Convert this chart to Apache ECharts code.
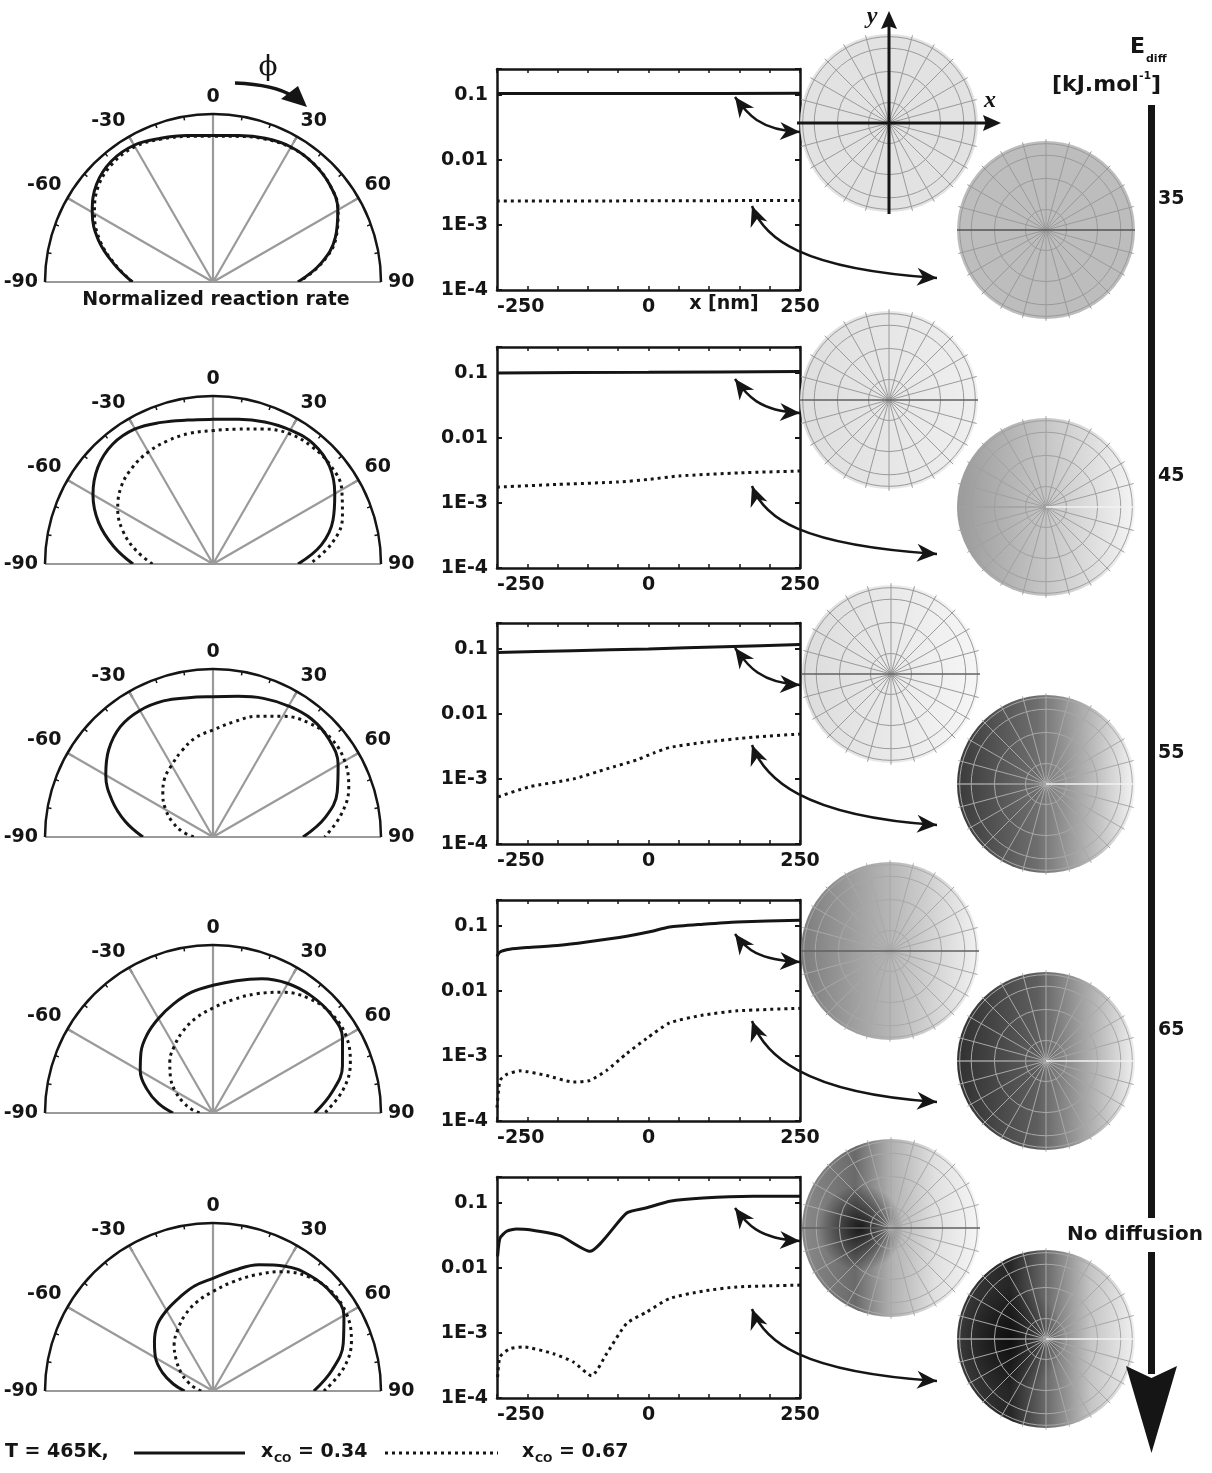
<!DOCTYPE html>
<html>
<head>
<meta charset="utf-8">
<script src="https://cdn.jsdelivr.net/npm/echarts@6/dist/echarts.min.js"></script>
<style>
html,body{margin:0;padding:0;background:#fff}
#chart{width:1212px;height:1473px}
</style>
</head>
<body>
<div id="chart"></div>
<script>
// ---- angular rate profiles (phi in degrees, rate normalized) ----
const ANGLES = [-90,-80,-70,-60,-50,-40,-30,-20,-10,0,10,20,30,40,50,60,70,80,90];

const rateE35_x034 = [0.48,0.595,0.725,0.83,0.905,0.94,0.94,0.91,0.885,0.872,0.885,0.91,0.928,0.925,0.905,0.858,0.775,0.655,0.505];
const rateE35_x067 = [0.48,0.59,0.715,0.815,0.89,0.925,0.93,0.905,0.88,0.868,0.88,0.905,0.925,0.925,0.905,0.86,0.78,0.66,0.51];
const rateE45_x034 = [0.476,0.60,0.725,0.825,0.895,0.93,0.928,0.897,0.87,0.861,0.875,0.90,0.921,0.932,0.905,0.837,0.76,0.655,0.506];
const rateE45_x067 = [0.36,0.465,0.57,0.655,0.714,0.748,0.77,0.782,0.79,0.794,0.815,0.855,0.898,0.913,0.913,0.885,0.82,0.72,0.576];
const rateE55_x034 = [0.417,0.53,0.64,0.737,0.81,0.858,0.87,0.862,0.842,0.835,0.85,0.878,0.9,0.915,0.902,0.86,0.787,0.68,0.536];
const rateE55_x067 = [0.115,0.185,0.255,0.325,0.39,0.45,0.493,0.545,0.6,0.637,0.695,0.765,0.83,0.887,0.915,0.905,0.86,0.775,0.665];
const rateE65_x034 = [0.238,0.33,0.42,0.5,0.56,0.61,0.65,0.69,0.73,0.76,0.8,0.85,0.89,0.91,0.915,0.89,0.82,0.72,0.605];
const rateE65_x067 = [0.08,0.13,0.19,0.26,0.33,0.4,0.46,0.52,0.575,0.625,0.685,0.755,0.83,0.89,0.92,0.915,0.87,0.785,0.665];
const rateND_x034  = [0.169,0.24,0.32,0.395,0.455,0.515,0.553,0.59,0.635,0.671,0.73,0.8,0.858,0.897,0.915,0.90,0.825,0.72,0.6];
const rateND_x067  = [0.07,0.11,0.16,0.22,0.285,0.36,0.42,0.483,0.54,0.592,0.658,0.735,0.82,0.887,0.92,0.918,0.877,0.79,0.66];

// ---- rate along x [nm] (log scale) ----
const profE35_x034_pos = [-250, 0, 250];
const profE35_x034_val = [0.105, 0.105, 0.106];
const profE35_x067_pos = [-250, 0, 250];
const profE35_x067_val = [0.00233, 0.00235, 0.00238];

const profE45_x034_pos = [-250, 0, 250];
const profE45_x034_val = [0.1, 0.102, 0.105];
const profE45_x067_pos = [-250, -150, -50, 0, 50, 150, 250];
const profE45_x067_val = [0.00175, 0.00193, 0.0021, 0.0023, 0.0026, 0.0029, 0.0031];

const profE55_x034_pos = [-250, -125, 0, 125, 250];
const profE55_x034_val = [0.088, 0.094, 0.1, 0.108, 0.117];
const profE55_x067_pos = [-248, -196, -124, -69, -19, 8, 35, 90, 173, 250];
const profE55_x067_val = [5.3e-4, 7.6e-4, 1.0e-3, 1.43e-3, 1.97e-3, 2.5e-3, 3.05e-3, 3.64e-3, 4.4e-3, 4.9e-3];

const profE65_x034_pos = [-250, -245, -229, -201, -146, -102, -36, 2, 35, 90, 146, 250];
const profE65_x034_val = [0.034, 0.0397, 0.0437, 0.0464, 0.0504, 0.0566, 0.0694, 0.081, 0.096, 0.106, 0.115, 0.122];
const profE65_x067_pos = [-250, -245, -234, -212, -168, -124, -97, -69, -36, -3, 35, 90, 146, 250];
const profE65_x067_val = [1.6e-4, 4.2e-4, 5.2e-4, 5.9e-4, 5.0e-4, 3.97e-4, 4.2e-4, 6.0e-4, 1.09e-3, 1.86e-3, 3.23e-3, 4.25e-3, 4.94e-3, 5.4e-3];

const profND_x034_pos = [-249, -245, -234, -218, -196, -146, -97, -36, -3, 35, 90, 173, 250];
const profND_x034_val = [0.015, 0.0288, 0.0366, 0.0397, 0.0387, 0.0313, 0.018, 0.07, 0.084, 0.106, 0.119, 0.126, 0.126];
const profND_x067_pos = [-249, -245, -229, -207, -157, -124, -94, -69, -36, -3, 35, 90, 146, 250];
const profND_x067_val = [2.1e-4, 4.3e-4, 5.7e-4, 6.1e-4, 4.8e-4, 3.57e-4, 2.2e-4, 4.8e-4, 1.4e-3, 2.1e-3, 3.4e-3, 4.4e-3, 5.1e-3, 5.45e-3];

// ---- axis tick texts ----
const PHI_TICKS = [-90, -60, -30, 0, 30, 60, 90];
const X_TICK_LABELS = [-250, 0, 250];
const Y_TICK_LABELS = {'-1': '0.1', '-2': '0.01', '-3': '1E-3', '-4': '1E-4'};
const EDIFF_LABELS = ['35', '45', '55', '65'];

// ---- layout ----
const FONT = 'DejaVu Sans';
const INK = '#151515';
const POLAR_Y = [282, 564, 837, 1113, 1391];
const GRID_TOP = [69, 347, 623, 900, 1177];
const UPPER_C = [[889, 123], [889, 400], [891, 674], [890, 951], [891, 1228]];
const LOWER_C = [[1046, 230], [1046, 507], [1046, 784], [1046, 1061], [1046, 1339]];
const SMALL_ARROW = [[28, 63], [32, 66], [25, 62], [34, 62], [31, 64]];
const LONG_ARROW = [[137, 209], [139, 207], [122, 202], [121, 202], [132, 204]];

const polarSets = [
  [rateE35_x034, rateE35_x067], [rateE45_x034, rateE45_x067], [rateE55_x034, rateE55_x067],
  [rateE65_x034, rateE65_x067], [rateND_x034, rateND_x067]
];
const profileSets = [
  [[profE35_x034_pos, profE35_x034_val], [profE35_x067_pos, profE35_x067_val]],
  [[profE45_x034_pos, profE45_x034_val], [profE45_x067_pos, profE45_x067_val]],
  [[profE55_x034_pos, profE55_x034_val], [profE55_x067_pos, profE55_x067_val]],
  [[profE65_x034_pos, profE65_x034_val], [profE65_x067_pos, profE65_x067_val]],
  [[profND_x034_pos, profND_x034_val], [profND_x067_pos, profND_x067_val]]
];

const rows = [0, 1, 2, 3, 4];
const solidStyle = {color: INK, width: 3};
const dotStyle = {color: INK, width: 3, type: [3, 4], cap: 'butt'};
const labelFont = {color: INK, fontFamily: FONT, fontWeight: 'bold', fontSize: 19};

// ---- polar half-disks ----
const polar = rows.map(i => ({center: [213, POLAR_Y[i]], radius: 168}));
const angleAxis = rows.map(i => ({
  polarIndex: i, type: 'value', min: -90, max: 90, interval: 30,
  startAngle: 180, endAngle: 0, clockwise: true,
  axisLine: {show: true, lineStyle: {color: INK, width: 2.5}},
  axisTick: {show: true, inside: true, length: 7, lineStyle: {color: INK, width: 2}},
  minorTick: {show: true, splitNumber: 3, length: 4, lineStyle: {color: INK, width: 1.5}},
  splitLine: {show: true, lineStyle: {color: '#9a9a9a', width: 2.2}},
  axisLabel: Object.assign({show: true, margin: 7,
    formatter: v => PHI_TICKS.indexOf(v) >= 0 ? String(v) : ''}, labelFont)
}));
const radiusAxis = rows.map(i => ({
  polarIndex: i, type: 'value', min: 0, max: 1, show: false,
  axisLine: {show: false}, axisTick: {show: false}, axisLabel: {show: false}, splitLine: {show: false}
}));

// ---- log-scale profiles ----
const grid = rows.map(i => ({left: 497, top: GRID_TOP[i], width: 303, height: 221}));
const xAxis = [];
const yAxis = [];
rows.forEach(i => {
  const frame = {onZero: false, lineStyle: {color: INK, width: 2.5}};
  xAxis.push({
    gridIndex: i, type: 'value', min: -250, max: 250, interval: 50, position: 'bottom',
    axisLine: frame, axisTick: {inside: true, length: 4, lineStyle: {color: INK, width: 1.5}},
    splitLine: {show: false},
    axisLabel: Object.assign({margin: 8, alignMinLabel: 'left', alignMaxLabel: 'center',
      formatter: v => X_TICK_LABELS.indexOf(v) >= 0 ? String(v) : ''}, labelFont)
  });
  xAxis.push({
    gridIndex: i, type: 'value', min: -250, max: 250, interval: 50, position: 'top',
    axisLine: frame, axisTick: {inside: true, length: 4, lineStyle: {color: INK, width: 1.5}},
    splitLine: {show: false}, axisLabel: {show: false}
  });
  const yFmt = v => {
    const l = Math.log10(v), e = Math.round(l);
    return Math.abs(l - e) < 1e-6 && Y_TICK_LABELS[String(e)] ? Y_TICK_LABELS[String(e)] : '';
  };
  yAxis.push({
    gridIndex: i, type: 'log', logBase: 10, min: 1e-4, max: 0.25, position: 'left',
    axisLine: frame, axisTick: {inside: true, length: 5, lineStyle: {color: INK, width: 2}},
    splitLine: {show: false},
    axisLabel: Object.assign({margin: 9, formatter: yFmt}, labelFont)
  });
  yAxis.push({
    gridIndex: i, type: 'log', logBase: 10, min: 1e-4, max: 0.25, position: 'right',
    axisLine: frame, axisTick: {inside: true, length: 5, lineStyle: {color: INK, width: 2}},
    splitLine: {show: false}, axisLabel: {show: false}
  });
});

// ---- series ----
const series = [];
rows.forEach(i => {
  const [solid, dotted] = polarSets[i];
  series.push({type: 'line', coordinateSystem: 'polar', polarIndex: i, symbol: 'none', smooth: 0.4,
    data: ANGLES.map((a, k) => [solid[k], a]), lineStyle: solidStyle, z: 4, silent: true});
  series.push({type: 'line', coordinateSystem: 'polar', polarIndex: i, symbol: 'none', smooth: 0.4,
    data: ANGLES.map((a, k) => [dotted[k], a]), lineStyle: dotStyle, z: 4, silent: true});
  const [[sx, sy], [dx, dy]] = profileSets[i];
  series.push({type: 'line', xAxisIndex: 2 * i, yAxisIndex: 2 * i, symbol: 'none', smooth: 0.2,
    data: sx.map((x, k) => [x, sy[k]]), lineStyle: solidStyle, silent: true});
  series.push({type: 'line', xAxisIndex: 2 * i, yAxisIndex: 2 * i, symbol: 'none', smooth: 0.2,
    data: dx.map((x, k) => [x, dy[k]]), lineStyle: dotStyle, silent: true});
});

// ---- drawing helpers ----
const lin = stops => ({type: 'linear', x: 0, y: 0, x2: 1, y2: 0,
  colorStops: stops.map(([o, c]) => ({offset: o, color: c}))});
const rad = (x, y, r, stops) => ({type: 'radial', x, y, r,
  colorStops: stops.map(([o, c]) => ({offset: o, color: c}))});

function txt(x, y, text, opts) {
  const o = Object.assign({fontSize: 19, fontWeight: 'bold', fontFamily: FONT, fill: INK,
    align: 'left', verticalAlign: 'middle'}, opts || {});
  return {type: 'text', x, y, z: 20, silent: true,
    style: Object.assign({text, textAlign: o.align, textVerticalAlign: o.verticalAlign}, o)};
}

function head(tx, ty, ux, uy, len, half, notch) {
  // arrowhead with tip (tx,ty) pointing along unit vector (ux,uy)
  const px = -uy, py = ux;
  const bx = tx - ux * len, by = ty - uy * len;
  const nx = tx - ux * len * (1 - notch), ny = ty - uy * len * (1 - notch);
  return {type: 'polygon', z: 21, silent: true,
    shape: {points: [[tx, ty], [bx + px * half, by + py * half], [nx, ny], [bx - px * half, by - py * half]]},
    style: {fill: INK}};
}
function unit(x, y) { const d = Math.hypot(x, y); return [x / d, y / d]; }

function curvedArrow(p0, c1, c2, p1, lw) {
  const els = [{type: 'bezierCurve', z: 20, silent: true,
    shape: {x1: p0[0], y1: p0[1], cpx1: c1[0], cpy1: c1[1], cpx2: c2[0], cpy2: c2[1], x2: p1[0], y2: p1[1]},
    style: {stroke: INK, lineWidth: lw || 2.5, fill: 'none'}}];
  const e = unit(p1[0] - c2[0], p1[1] - c2[1]);
  els.push(head(p1[0], p1[1], e[0], e[1], 20, 9, 0.3));
  const s = unit(p0[0] - c1[0], p0[1] - c1[1]);
  els.push(head(p0[0], p0[1], s[0], s[1], 20, 9, 0.3));
  return els;
}

function sphere(cx, cy, r, layers, gridColor, lineL, lineR, lineW) {
  const els = [];
  layers.forEach(f => els.push({type: 'circle', z: 10, silent: true, shape: {cx, cy, r}, style: {fill: f}}));
  [0.23, 0.58, 0.84, 0.97].forEach(k => els.push({type: 'circle', z: 11, silent: true,
    shape: {cx, cy, r: r * k}, style: {fill: 'none', stroke: gridColor, lineWidth: 1}}));
  for (let a = 0; a < 360; a += 15) {
    if (a % 180 === 0) continue;
    const t = a * Math.PI / 180;
    els.push({type: 'line', z: 11, silent: true,
      shape: {x1: cx, y1: cy, x2: cx + Math.cos(t) * r * 1.02, y2: cy - Math.sin(t) * r * 1.02},
      style: {stroke: gridColor, lineWidth: 1}});
  }
  if (lineL) els.push({type: 'line', z: 12, silent: true, shape: {x1: cx - r, y1: cy, x2: cx, y2: cy},
    style: {stroke: lineL, lineWidth: lineW}});
  if (lineR) els.push({type: 'line', z: 12, silent: true, shape: {x1: cx, y1: cy, x2: cx + r, y2: cy},
    style: {stroke: lineR, lineWidth: lineW}});
  return els;
}

const UPPER_SHADE = [
  ['#e2e2e2'],
  [lin([[0, '#dedede'], [1, '#efefef']])],
  [lin([[0, '#dcdcdc'], [1, '#f6f6f6']])],
  [lin([[0, '#7c7c7c'], [0.5, '#b6b6b6'], [1, '#f2f2f2']])],
  [lin([[0, '#8a8a8a'], [0.3, '#6a6a6a'], [0.5, '#b0b0b0'], [0.75, '#e0e0e0'], [1, '#f6f6f6']]),
   rad(0.33, 0.5, 0.24, [[0, 'rgba(10,10,10,0.85)'], [0.6, 'rgba(10,10,10,0.35)'], [1, 'rgba(10,10,10,0)']])]
];
const LOWER_SHADE = [
  ['#bdbdbd'],
  [lin([[0, '#9a9a9a'], [0.5, '#c6c6c6'], [1, '#f4f4f4']])],
  [lin([[0, '#3a3a3a'], [0.45, '#6e6e6e'], [1, '#f4f4f4']])],
  [lin([[0, '#303030'], [0.45, '#5e5e5e'], [1, '#f0f0f0']])],
  [lin([[0, '#3a3a3a'], [0.3, '#262626'], [0.5, '#6a6a6a'], [0.75, '#c4c4c4'], [1, '#f0f0f0']]),
   rad(0.3, 0.5, 0.3, [[0, 'rgba(0,0,0,0.6)'], [1, 'rgba(0,0,0,0)']])]
];
const UPPER_GRID = ['#9a9a9a', '#9a9a9a', '#9a9a9a', '#a8a8a8', '#a8a8a8'];
const LOWER_GRID = ['#9a9a9a', '#a0a0a0', '#a8a8a8', '#a8a8a8', '#a8a8a8'];

const elements = [];
rows.forEach(i => {
  const [ux, uy] = UPPER_C[i];
  const [lx, ly] = LOWER_C[i];
  elements.push(...sphere(ux, uy, 89, UPPER_SHADE[i], UPPER_GRID[i], i === 0 ? null : '#606060', i === 0 ? null : '#606060', 1.5));
  elements.push(...sphere(lx, ly, 89, LOWER_SHADE[i], LOWER_GRID[i],
    i === 0 ? '#555' : '#a0a0a0', i === 0 ? '#555' : '#f2f2f2', 1.5));
  const t = GRID_TOP[i];
  const [a0, a1] = SMALL_ARROW[i];
  elements.push(...curvedArrow([735, t + a0], [746, t + a0 + 15], [758, t + a1 - 2], [800, t + a1], 2.5));
  const [b0, b1] = LONG_ARROW[i];
  elements.push(...curvedArrow([752, t + b0], [764, t + b0 + 32], [800, t + b1 - 9], [937, t + b1], 2.5));
});

// coordinate frame on the first disk
elements.push({type: 'line', z: 22, silent: true, shape: {x1: 889, y1: 214, x2: 889, y2: 26}, style: {stroke: INK, lineWidth: 3}});
elements.push(head(889, 11, 0, -1, 18, 8, 0.15));
elements.push({type: 'line', z: 22, silent: true, shape: {x1: 797, y1: 123, x2: 986, y2: 123}, style: {stroke: INK, lineWidth: 3}});
elements.push(head(1001, 123, 1, 0, 18, 8, 0.15));
elements.push(txt(872, 17, 'y', {fontFamily: 'Liberation Serif', fontStyle: 'italic', fontSize: 24, align: 'center'}));
elements.push(txt(990, 101, 'x', {fontFamily: 'Liberation Serif', fontStyle: 'italic', fontSize: 24, align: 'center'}));

// phi direction marker
elements.push(txt(268, 68, '\u03D5', {fontFamily: 'DejaVu Serif', fontWeight: 'normal', fontSize: 28, align: 'center'}));
elements.push({type: 'bezierCurve', z: 20, silent: true,
  shape: {x1: 235, y1: 83, cpx1: 258, cpx2: 280, cpy1: 84, cpy2: 88, x2: 292, y2: 96},
  style: {stroke: INK, lineWidth: 3.5, fill: 'none'}});
elements.push({type: 'polygon', z: 21, silent: true, shape: {points: [[307, 107], [281, 99], [298, 86]]}, style: {fill: INK}});

// captions
elements.push(txt(216, 300, 'Normalized reaction rate', {align: 'center'}));
elements.push(txt(724, 304, 'x [nm]', {align: 'center'}));

// E_diff scale arrow
elements.push(txt(1130, 47, 'E', {fontSize: 22}));
elements.push(txt(1146, 59, 'diff', {fontSize: 11}));
elements.push(txt(1052, 85, '[kJ.mol', {fontSize: 22}));
elements.push(txt(1139, 76, '-1', {fontSize: 11}));
elements.push(txt(1151, 85, ']', {fontSize: 22}));
elements.push({type: 'rect', z: 20, silent: true, shape: {x: 1148, y: 105, width: 7, height: 1113}, style: {fill: INK}});
elements.push({type: 'rect', z: 20, silent: true, shape: {x: 1148, y: 1252, width: 7, height: 122}, style: {fill: INK}});
elements.push({type: 'polygon', z: 20, silent: true,
  shape: {points: [[1151.5, 1453], [1126, 1366], [1151.5, 1378], [1177, 1366]]}, style: {fill: INK}});
EDIFF_LABELS.forEach((s, k) => elements.push(txt(1158, 199 + 277 * k, s)));
elements.push(txt(1135, 1235, 'No diffusion', {fontSize: 20, align: 'center'}));

// key
elements.push(txt(5, 1452, 'T = 465K,'));
elements.push({type: 'line', z: 20, silent: true, shape: {x1: 134, y1: 1453, x2: 245, y2: 1453}, style: {stroke: INK, lineWidth: 3}});
elements.push(txt(261, 1452, 'x'));
elements.push(txt(274, 1459, 'CO', {fontSize: 11}));
elements.push(txt(298, 1452, '= 0.34'));
elements.push({type: 'line', z: 20, silent: true, shape: {x1: 385, y1: 1453, x2: 498, y2: 1453},
  style: {stroke: INK, lineWidth: 3, lineDash: [3, 4]}});
elements.push(txt(522, 1452, 'x'));
elements.push(txt(535, 1459, 'CO', {fontSize: 11}));
elements.push(txt(559, 1452, '= 0.67'));

const chart = echarts.init(document.getElementById('chart'), null, {renderer: 'canvas'});
chart.setOption({
  animation: false,
  backgroundColor: '#ffffff',
  polar, angleAxis, radiusAxis, grid, xAxis, yAxis, series,
  graphic: {elements}
});
</script>
</body>
</html>
